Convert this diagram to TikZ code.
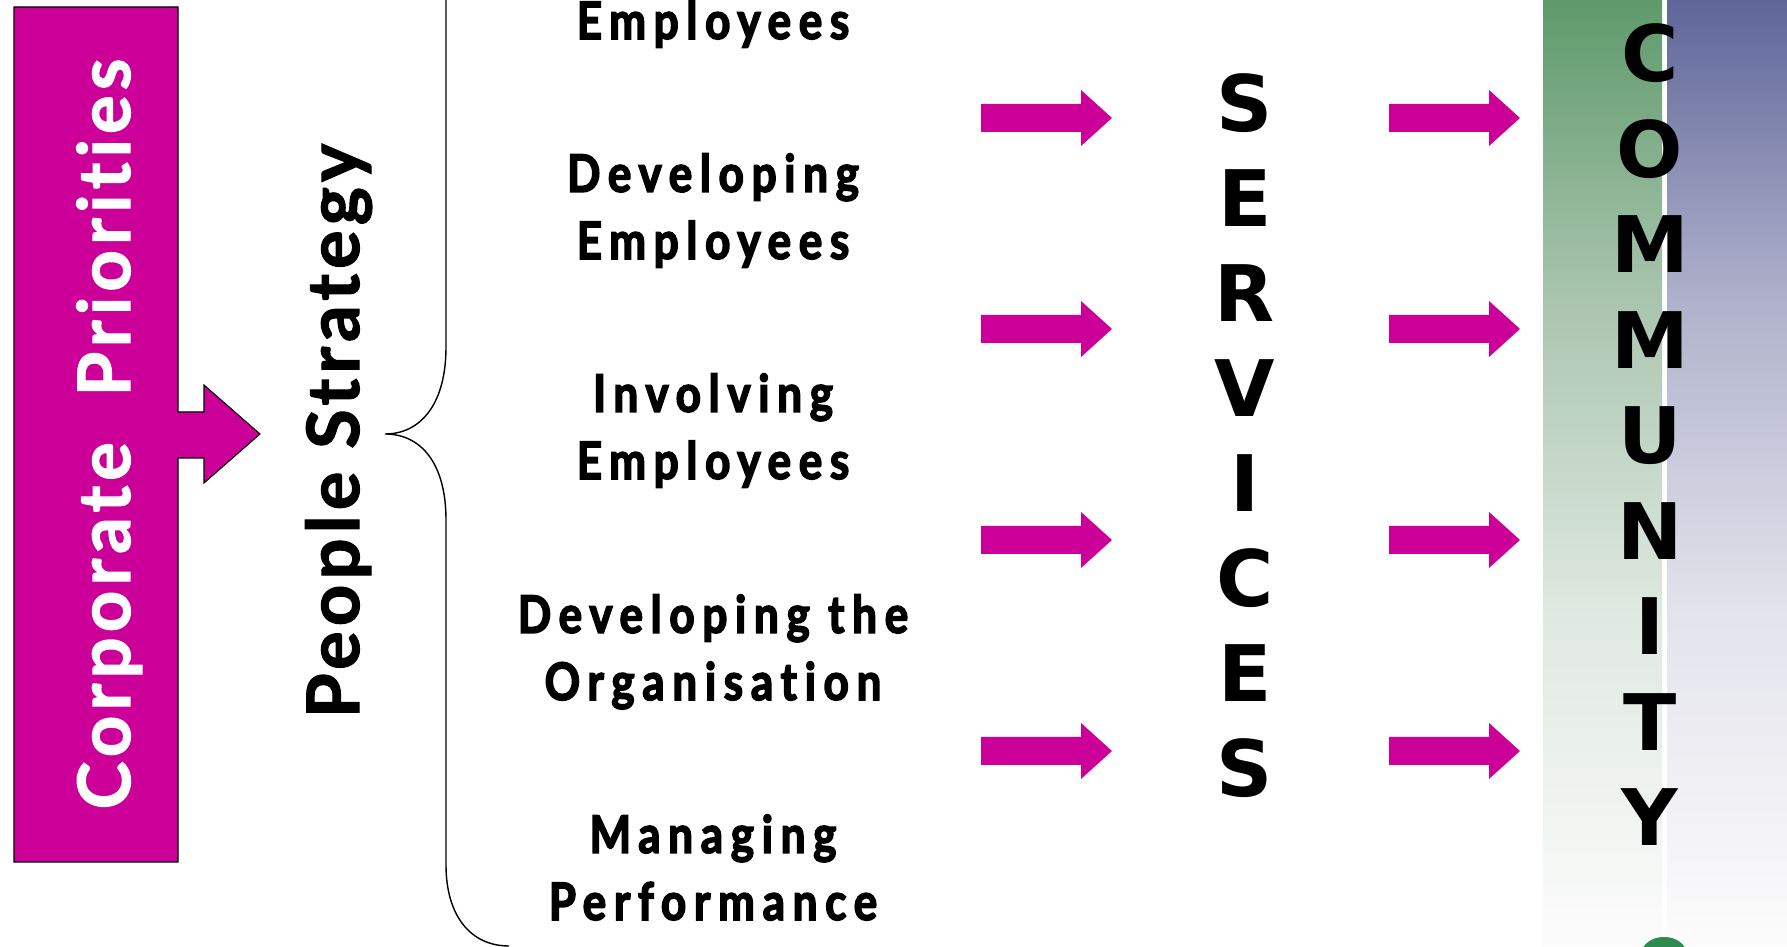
\documentclass[tikz,border=0pt]{standalone}
\usepackage{fontspec}
\setmainfont{Lato}
\newfontfamily\headfont[LetterSpace=7,FakeBold=1.5,Ligatures=NoCommon]{Lato}
\newfontfamily\itemfont[FakeStretch=0.85,LetterSpace=15,FakeBold=3,Ligatures=NoCommon]{Lato}
\newfontfamily\blockfont{DejaVu Sans}

\definecolor{priority}{RGB}{204,0,153}
\definecolor{treegreen}{RGB}{46,139,79}
\definecolor{bandlow}{RGB}{252,252,252}
\definecolor{greenA}{RGB}{94,154,107}
\definecolor{greenB}{RGB}{170,197,175}
\definecolor{greenC}{RGB}{222,232,224}
\definecolor{blueA}{RGB}{95,102,153}
\definecolor{blueB}{RGB}{176,178,204}
\definecolor{blueC}{RGB}{226,226,235}

% vertical fades for the two bands on the right
\pgfdeclareverticalshading{greenband}{100bp}{color(0bp)=(bandlow); color(25bp)=(bandlow);
  color(43bp)=(greenC); color(59bp)=(greenB); color(75bp)=(greenA); color(100bp)=(greenA)}
\pgfdeclareverticalshading{blueband}{100bp}{color(0bp)=(bandlow); color(25bp)=(bandlow);
  color(43bp)=(blueC); color(59bp)=(blueB); color(75bp)=(blueA); color(100bp)=(blueA)}

\begin{document}
\begin{tikzpicture}[x=0.1mm,y=-0.1mm,
    headtext/.style={font=\headfont\bfseries\fontsize{20.6}{24}\selectfont,anchor=base,rotate=90,inner sep=0pt},
    itemtext/.style={font=\itemfont\bfseries\fontsize{14.7}{19.1}\selectfont,align=center,anchor=base,inner sep=0pt},
    bigletter/.style={font=\blockfont\bfseries\fontsize{22.2}{27}\selectfont,anchor=base,inner sep=0pt},
    pics/push/.style={code={\fill[priority] (-65,-14) -- (35,-14) -- (35,-28) -- (66,0) -- (35,28) -- (35,14) -- (-65,14) -- cycle;}}]
        \useasboundingbox (0,0) rectangle (1787,947);
        \clip (0,0) rectangle (1787,947);
        \fill[white] (0,0) rectangle (1787,947);

        % Bands
        \shade[shading=greenband] (1543,0) rectangle (1662,947);
        \shade[shading=blueband] (1667,0) rectangle (1787,947);
        \fill[treegreen] (1664,953) ellipse [x radius=22, y radius=16];

        % Corporate priorities bar with its arrow
        \filldraw[fill=priority,draw=black,line width=0.3pt] (14,7) -- (178,7) -- (178,412) -- (204,412) -- (204,385)
            -- (260,434) -- (204,483) -- (204,458) -- (178,458) -- (178,862) -- (14,862) -- cycle;
        \node[headtext,white] (corporate) at (130,434) {Corporate\hspace{13pt}Priorities};

        % People strategy and its brace
        \node[headtext] (people) at (359,431) {People Strategy};
        \draw[thin] (446,-10) -- (446,347) .. controls (446,405) and (420,434) .. (385,434)
            .. controls (420,434) and (446,462) .. (446,520) -- (446,865) .. controls (446,915) and (470,946) .. (509,946);

        % Strands
        \node[itemtext] (employees) at (713,39) {Employees};
        \node[itemtext] (developing) at (713,259) {Developing\\Employees};
        \node[itemtext] (involving) at (713,479) {Involving\\Employees};
        \node[itemtext] (organisation) at (713,700) {Developing the\\Organisation};
        \node[itemtext] (managing) at (713,920) {Managing\\Performance};

        % Arrows into services and on to the community
        \foreach \y in {118,329,540,751} {
            \pic at (1046,\y) {push};
            \pic at (1454,\y) {push};
        }

        % Services
        \foreach \ch [count=\i from 0] in {S,E,R,V,I,C,E,S}
            \node[bigletter] (svc\i) at (1245,{132+95*\i}) {\ch};

        % Community
        \foreach \ch [count=\i from 0] in {C,O,M,M,U,N,I,T,Y}
            \node[bigletter] (com\i) at (1650,{82+95.5*\i}) {\ch};
\end{tikzpicture}
\end{document}
